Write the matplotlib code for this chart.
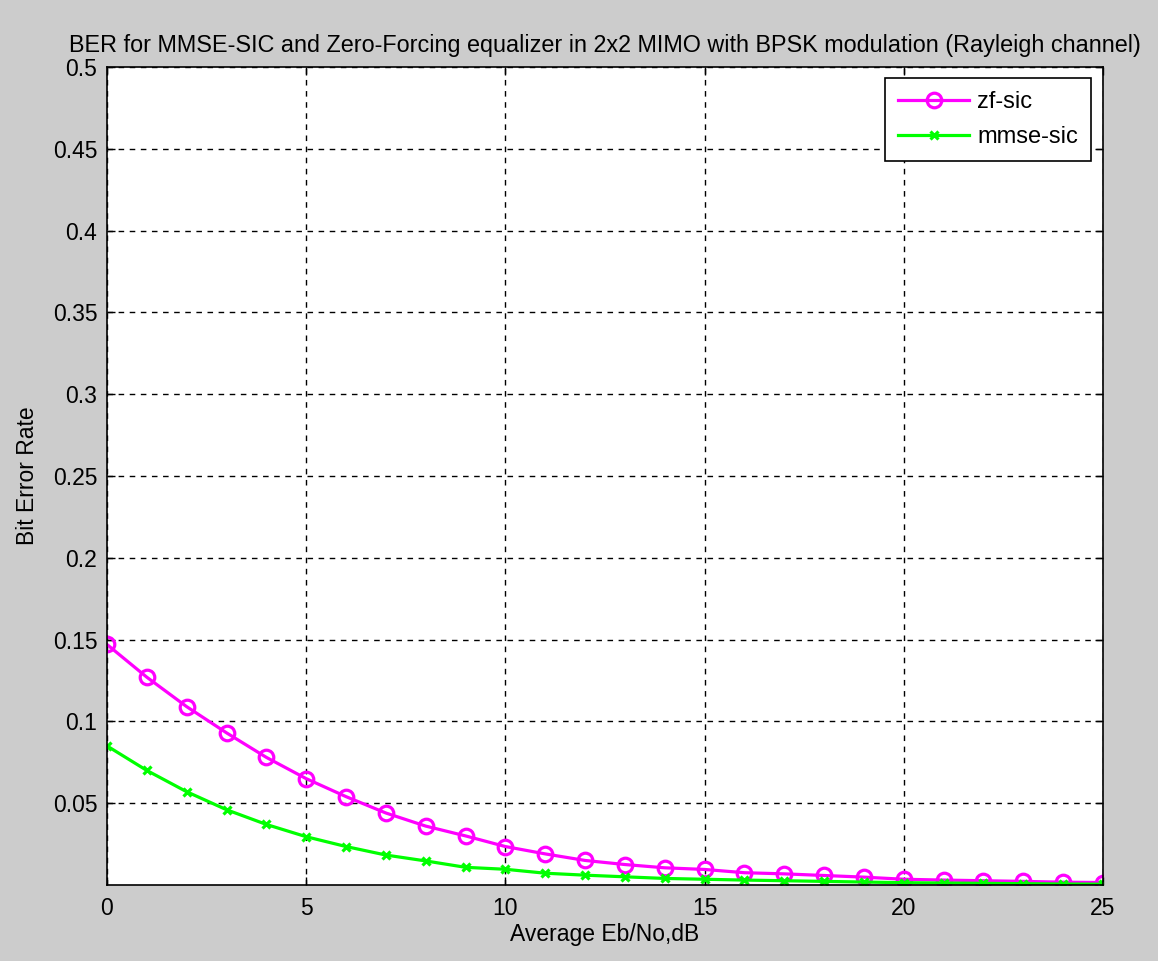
import numpy as np
import matplotlib
matplotlib.use('Agg')
import matplotlib.pyplot as plt

# Eb/No in dB
snr_db = list(range(0, 26))

# BER values
ber_zf_sic = [0.147, 0.127, 0.109, 0.093, 0.078, 0.065, 0.054, 0.044, 0.036, 0.030,
              0.0235, 0.019, 0.015, 0.0125, 0.0105, 0.0095, 0.0075, 0.0068, 0.0058, 0.0048,
              0.0035, 0.003, 0.0026, 0.0022, 0.0017, 0.0015]
ber_mmse_sic = [0.085, 0.070, 0.057, 0.046, 0.037, 0.0295, 0.0235, 0.0183, 0.0147, 0.0108,
                0.0096, 0.0072, 0.006, 0.005, 0.004, 0.0035, 0.003, 0.0026, 0.0022, 0.0018,
                0.0014, 0.0012, 0.001, 0.0008, 0.0006, 0.0005]

xticks = [0, 5, 10, 15, 20, 25]
yticks = [0.05, 0.1, 0.15, 0.2, 0.25, 0.3, 0.35, 0.4, 0.45, 0.5]
ytick_labels = ['0.05', '0.1', '0.15', '0.2', '0.25', '0.3', '0.35', '0.4', '0.45', '0.5']

plt.rcParams['font.family'] = ['Liberation Sans', 'DejaVu Sans']

fig = plt.figure(figsize=(11.58, 9.61), dpi=100, facecolor='#cccccc')
ax = fig.add_axes([0.0924, 0.0791, 0.8601, 0.8512])
ax.set_facecolor('white')

ax.plot(snr_db, ber_zf_sic, color='#ff00ff', lw=2.3, marker='o', ms=10.5,
        mfc='none', mew=2.3, label='zf-sic')
ax.plot(snr_db, ber_mmse_sic, color='#00ff00', lw=2.3, marker='x', ms=5.5,
        mew=2.3, label='mmse-sic')

ax.set_xlim(0, 25)
ax.set_ylim(0, 0.5)
ax.set_xticks(xticks)
ax.set_yticks(yticks)
ax.set_yticklabels(ytick_labels)
ax.tick_params(direction='in', length=6, width=1, labelsize=16.5, colors='black',
               top=True, right=True)
ax.tick_params(axis='x', pad=9)
ax.tick_params(axis='y', pad=7)
ax.grid(True, color='black', linestyle=(0, (4, 4)), linewidth=1)
for s in ax.spines.values():
    s.set_linewidth(1.2)

ax.set_xlabel('Average Eb/No,dB', fontsize=16.5, labelpad=2)
ax.set_ylabel('Bit Error Rate', fontsize=16.5, labelpad=10)
ax.set_title('BER for MMSE-SIC and Zero-Forcing equalizer in 2x2 MIMO with BPSK modulation (Rayleigh channel)',
             fontsize=16.8, pad=11)

leg = ax.legend(loc='upper right', bbox_to_anchor=(0.988, 0.986), fontsize=17,
                fancybox=False, edgecolor='black', framealpha=1,
                handlelength=3.0, handletextpad=0.35, borderpad=0.55,
                labelspacing=0.55, borderaxespad=0)
leg.get_frame().set_linewidth(1.2)

fig.savefig('out.png', dpi=100, facecolor=fig.get_facecolor())
